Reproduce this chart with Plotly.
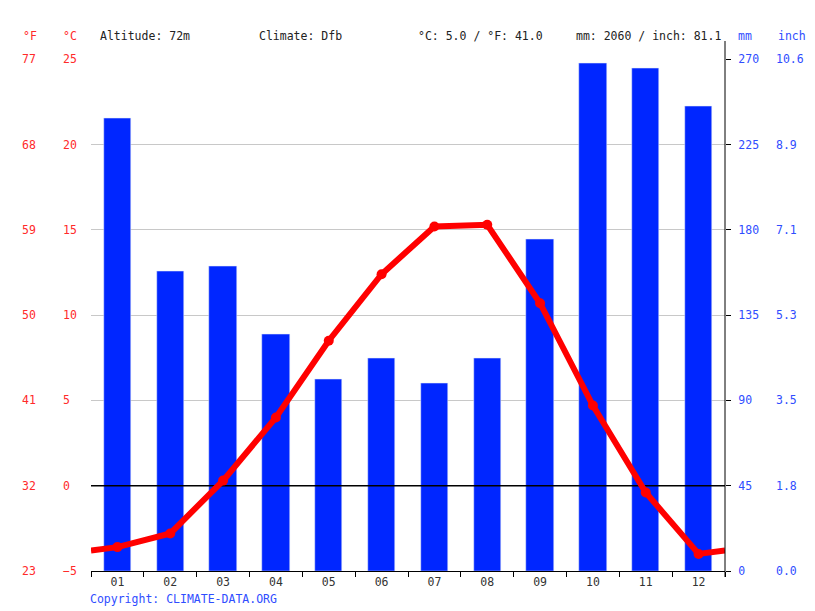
import plotly.graph_objects as go

# climate chart data
months = ['01', '02', '03', '04', '05', '06', '07', '08', '09', '10', '11', '12']
temp_c = [-3.6, -2.8, 0.3, 4.0, 8.5, 12.4, 15.2, 15.3, 10.7, 4.7, -0.4, -4.0]
precip_mm = [239, 158, 161, 125, 101, 112, 99, 112, 175, 268, 265, 245]

altitude = 'Altitude: 72m'
climate = 'Climate: Dfb'
c_range = [-5, 25]
mm_range = [0, 270]

# the page puts the figure 8px in from the top-left corner of the window,
# so the figure is made that much smaller and positions are shifted back
PAGE_PAD = 8
W, H = 815 - PAGE_PAD, 611 - PAGE_PAD
FONT = 'DejaVu Sans Mono'
RED = '#ff2a2a'
BLUE_TXT = '#2f4dff'
BAR_BLUE = '#0026ff'

# plot area in window pixels
left, right, top, bottom = 91, 725, 59.3, 571


def px_x(v):
    return (v - PAGE_PAD) / W


def px_y(v):
    return (H - (v - PAGE_PAD)) / H


n = len(months)
x = list(range(1, n + 1))
# the line runs on to the plot edges, half way towards the neighbouring month (wraps Dec/Jan)
edge = (temp_c[0] + temp_c[-1]) / 2
line_x = [0.5] + x + [n + 0.5]
line_y = [edge] + temp_c + [edge]

mean_c = sum(temp_c) / n
total_mm = sum(precip_mm)
summary_t = f'°C: {mean_c:.1f} / °F: {mean_c * 9 / 5 + 32:.1f}'
summary_p = f'mm: {total_mm} / inch: {total_mm / 25.4:.1f}'

temp_f = [c * 9 / 5 + 32 for c in temp_c]
precip_in = [m / 25.4 for m in precip_mm]
f_range = [c * 9 / 5 + 32 for c in c_range]
c_ticks = list(range(c_range[0], c_range[1] + 1, 5))
f_ticks = [c * 9 / 5 + 32 for c in c_ticks]
mm_ticks = list(range(mm_range[0], mm_range[1] + 1, 45))
inch_ticks = [m / 25.4 for m in mm_ticks]

fig = go.Figure()

fig.add_trace(go.Bar(x=x, y=precip_mm, marker_color=BAR_BLUE, width=0.52,
                     yaxis='y', name='mm'))
# same values in the other units, invisible, so the extra axes get drawn
fig.add_trace(go.Scatter(x=x, y=temp_f, mode='lines', line=dict(width=0),
                         yaxis='y3', hoverinfo='skip', opacity=0))
fig.add_trace(go.Scatter(x=x, y=precip_in, mode='lines', line=dict(width=0),
                         yaxis='y4', hoverinfo='skip', opacity=0))
# zero degree line, drawn over the bars but under the temperature line
fig.add_trace(go.Scatter(x=[0.5, n + 0.5], y=[0, 0], mode='lines',
                         line=dict(color='black', width=1.6), yaxis='y2',
                         hoverinfo='skip'))
fig.add_trace(go.Scatter(x=line_x, y=line_y, mode='lines',
                         line=dict(color='#ff0000', width=6), yaxis='y2',
                         hoverinfo='skip'))
fig.add_trace(go.Scatter(x=x, y=temp_c, mode='markers',
                         marker=dict(color='#ff0000', size=10), yaxis='y2'))

ydom = [px_y(bottom), px_y(top)]
tickfont = dict(family=FONT, size=11.5)

fig.update_layout(
    width=W, height=H,
    margin=dict(l=0, r=0, t=0, b=0, pad=0, autoexpand=False),
    plot_bgcolor='white', paper_bgcolor='white',
    showlegend=False,
    bargap=0,
    font=dict(family=FONT, size=11.5, color='#222'),
    xaxis=dict(
        domain=[px_x(left), px_x(right)],
        range=[0.5, n + 0.5], automargin=False,
        tickvals=x, ticktext=months,
        ticks='', showgrid=False, zeroline=False,
        showline=True, linecolor='black', linewidth=1,
        tickfont=dict(family=FONT, size=11.5, color='#333'),
        minor=dict(tickvals=[i + 0.5 for i in range(n + 1)], ticks='outside',
                   ticklen=5, tickcolor='black', tickwidth=1, showgrid=False),
    ),
    yaxis=dict(
        domain=ydom, range=mm_range, side='right', anchor='x', automargin=False,
        tickvals=mm_ticks, ticks='outside', ticklen=5, tickcolor='black',
        showline=False, showgrid=True, gridcolor='#c8c8c8', zeroline=False,
        tickfont=dict(tickfont, color=BLUE_TXT), ticklabelstandoff=5,
    ),
    yaxis2=dict(
        overlaying='y', range=c_range, side='right', anchor='free',
        position=px_x(62), tickvals=c_ticks, ticks='', showgrid=False,
        zeroline=False, showline=False, automargin=False,
        tickfont=dict(tickfont, color=RED),
    ),
    yaxis3=dict(
        overlaying='y', range=f_range, side='right', anchor='free',
        position=px_x(21), tickvals=f_ticks, ticktext=[f'{v:.0f}' for v in f_ticks],
        ticks='', showgrid=False, zeroline=False, showline=False, automargin=False,
        tickfont=dict(tickfont, color=RED),
    ),
    yaxis4=dict(
        overlaying='y', range=[m / 25.4 for m in mm_range], side='right',
        anchor='free', position=px_x(775), tickvals=inch_ticks,
        ticktext=[f'{v:.1f}' for v in inch_ticks], automargin=False,
        ticks='', showgrid=False, zeroline=False, showline=False,
        tickfont=dict(tickfont, color=BLUE_TXT),
    ),
)

# right axis line reaching up into the header row
fig.add_shape(type='line', xref='x domain', yref='paper', x0=1, x1=1,
              y0=px_y(bottom + 6), y1=px_y(41), line=dict(color='black', width=1))

header = [
    ('°F', 23, RED), ('°C', 63, RED),
    (altitude, 100, '#222'), (climate, 259, '#222'),
    (summary_t, 418, '#222'), (summary_p, 576, '#222'),
    ('mm', 738, BLUE_TXT), ('inch', 778, BLUE_TXT),
]
for text, xp, col in header:
    fig.add_annotation(text=text, x=px_x(xp - 2), y=px_y(36), xref='paper', yref='paper',
                       xanchor='left', yanchor='middle', showarrow=False,
                       font=dict(family=FONT, size=11.5, color=col))

fig.add_annotation(text='Copyright: CLIMATE-DATA.ORG', x=px_x(88), y=px_y(599),
                   xref='paper', yref='paper', xanchor='left', yanchor='middle',
                   showarrow=False, font=dict(family=FONT, size=11.5, color=BLUE_TXT))

fig.write_html('out.html')
